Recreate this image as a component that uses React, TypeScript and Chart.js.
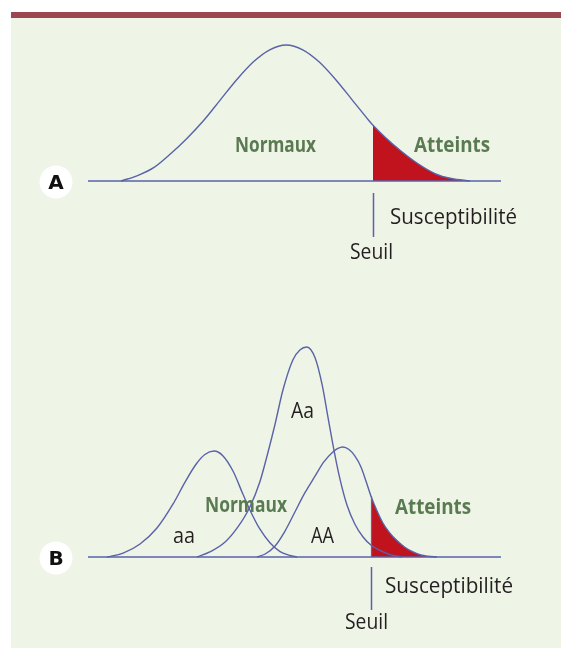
import React, { useEffect, useRef } from "react";
import { Chart, registerables } from "chart.js";

Chart.register(...registerables);

// ---------- DATA ----------
// Susceptibility axis runs 0..100 along the baseline; heights are arbitrary frequency units.
// Panel A: single population
const curveAX = [8, 12, 16, 20, 24, 28, 32, 36, 40, 44, 48, 52, 56, 60, 64, 68, 69, 72, 76, 80, 84, 88, 92.5];
const curveAY = [0, 4, 10, 20, 31.5, 44.5, 59.5, 74.5, 87.5, 96.5, 100, 96.5, 87.5, 74.5, 59.5, 44.5, 41, 32, 21.5, 12.5, 5.5, 1.8, 0];
const thresholdA = 69;

// Panel B: three genotypes
const aaX = [4.6, 8.5, 12.6, 16.7, 20.6, 23.5, 26.2, 28.3, 30.5, 32.7, 35.1, 37.5, 39.2, 41.6, 44.1, 46.5, 48.9, 50.6];
const aaY = [0, 2.9, 9.6, 21.3, 39.0, 55.1, 68.4, 75.4, 77.9, 74.3, 63.2, 46.3, 34.6, 20.6, 10.3, 4.0, 1.1, 0];
const AaX = [26.4, 29.5, 33.2, 36.3, 39.2, 41.6, 43.6, 45.3, 47.2, 49.6, 51.3, 53.0, 55.0, 56.7, 58.1, 59.6, 61.0, 62.7, 64.6, 66.6, 68.5, 70.7, 73.1, 76.0];
const AaY = [0, 3.7, 11.0, 22.1, 36.8, 55.1, 77.2, 97.8, 122.8, 144.9, 152.2, 154.4, 146.3, 126.5, 102.9, 77.9, 57.4, 38.2, 24.3, 14.7, 8.8, 4.8, 1.8, 0];
const AAX = [40.9, 42.9, 45.3, 47.7, 50.1, 52.5, 55.0, 57.1, 59.3, 60.5, 61.7, 63.2, 64.6, 66.1, 67.3, 68.5, 70.0, 71.4, 73.1, 74.8, 76.8, 78.7, 80.6, 82.3, 84.5];
const AAY = [0, 2.2, 8.1, 19.1, 33.1, 47.1, 59.6, 69.9, 77.2, 79.8, 80.9, 79.0, 74.3, 66.2, 55.9, 44.9, 33.8, 25.0, 17.6, 12.1, 7.0, 3.7, 1.5, 0.6, 0];
const thresholdB = 68.5;

const axisRange = [0, 100];

// ---------- STYLE ----------
const BLUE = "#5a62a8";
const RED = "#c1131d";
const GREEN = "#5a7a52";
const INK = "#231f20";
const PANEL = "#eef4e6";
const BAR = "#9b4651";
const REG = "21px 'Open Sans', sans-serif";
const BOLD = "bold 21px 'Open Sans', sans-serif";

type Label = { text: string; x: number; y: number; w: number; font: string; color: string };
type Overlay = {
  threshold: number;
  tickGap: number;
  tickLen: number;
  edge: boolean;
  edgeTop: number;
  badge: { text: string; x: number; y: number };
  labels: Label[];
};

const pts = (xs: number[], ys: number[]) => xs.map((x, i) => ({ x, y: ys[i] }));

function overlayPlugin(o: Overlay) {
  return {
    id: "overlay",
    afterDatasetsDraw(chart: any) {
      const ctx = chart.ctx as CanvasRenderingContext2D;
      const xs = chart.scales.x;
      const ys = chart.scales.y;
      const tx = Math.round(xs.getPixelForValue(o.threshold)) + 0.5;
      const by = ys.getPixelForValue(0);
      ctx.save();
      ctx.strokeStyle = BLUE;
      ctx.lineWidth = 1.5;
      ctx.beginPath();
      ctx.moveTo(tx, by + o.tickGap);
      ctx.lineTo(tx, by + o.tickGap + o.tickLen);
      ctx.stroke();
      if (o.edge) {
        ctx.lineWidth = 1.2;
        ctx.beginPath();
        ctx.moveTo(tx, by);
        ctx.lineTo(tx, ys.getPixelForValue(o.edgeTop));
        ctx.stroke();
      }
      // badge
      ctx.fillStyle = "#ffffff";
      ctx.beginPath();
      ctx.arc(o.badge.x, o.badge.y, 16.5, 0, Math.PI * 2);
      ctx.fill();
      ctx.fillStyle = "#111111";
      ctx.font = "bold 20px 'DejaVu Sans', sans-serif";
      ctx.textAlign = "center";
      ctx.textBaseline = "alphabetic";
      ctx.fillText(o.badge.text, o.badge.x, o.badge.y + 7.3);
      // labels
      ctx.textAlign = "left";
      for (const l of o.labels) {
        ctx.font = l.font;
        ctx.fillStyle = l.color;
        ctx.fillText(l.text, l.x, l.y, l.w);
      }
      ctx.restore();
    },
  };
}

function buildChart(
  canvas: HTMLCanvasElement,
  curves: { x: number[]; y: number[] }[],
  fillCurve: { x: number[]; y: number[] },
  threshold: number,
  yMax: number,
  padding: { left: number; right: number; top: number; bottom: number },
  overlay: Overlay
) {
  const fillPts = pts(fillCurve.x, fillCurve.y).filter((p) => p.x >= threshold);
  const datasets: any[] = [
    {
      data: pts(axisRange, [0, 0]),
      borderColor: BLUE,
      borderWidth: 1.6,
      pointRadius: 0,
      fill: false,
      clip: false,
      order: 1,
    },
    ...curves.map((c) => ({
      data: pts(c.x, c.y),
      borderColor: BLUE,
      borderWidth: 1.4,
      pointRadius: 0,
      cubicInterpolationMode: "monotone",
      fill: false,
      clip: false,
      order: 2,
    })),
    {
      data: fillPts,
      borderWidth: 0,
      borderColor: "rgba(0,0,0,0)",
      backgroundColor: RED,
      pointRadius: 0,
      cubicInterpolationMode: "monotone",
      fill: "origin",
      clip: false,
      order: 3,
    },
  ];
  return new Chart(canvas, {
    type: "line",
    data: { datasets },
    options: {
      animation: false,
      responsive: false,
      maintainAspectRatio: false,
      events: [],
      layout: { padding },
      plugins: { legend: { display: false }, tooltip: { enabled: false }, title: { display: false } },
      scales: {
        x: { type: "linear", min: axisRange[0], max: axisRange[1], display: false },
        y: { type: "linear", min: 0, max: yMax, display: false },
      },
    } as any,
    plugins: [overlayPlugin(overlay)],
  });
}

export default function App() {
  const refA = useRef<HTMLCanvasElement>(null);
  const refB = useRef<HTMLCanvasElement>(null);

  useEffect(() => {
    const a = buildChart(
      refA.current!,
      [{ x: curveAX, y: curveAY }],
      { x: curveAX, y: curveAY },
      thresholdA,
      100,
      { left: 88, right: 60, top: 45, bottom: 119 },
      {
        threshold: thresholdA,
        tickGap: 12,
        tickLen: 44,
        edge: false,
        edgeTop: 0,
        badge: { text: "A", x: 56, y: 182 },
        labels: [
          { text: "Normaux", x: 235, y: 152, w: 81, font: BOLD, color: GREEN },
          { text: "Atteints", x: 414, y: 151.5, w: 76, font: BOLD, color: GREEN },
          { text: "Susceptibilité", x: 390, y: 223.5, w: 127, font: REG, color: INK },
          { text: "Seuil", x: 350, y: 258.5, w: 43, font: REG, color: INK },
        ],
      }
    );
    const b = buildChart(
      refB.current!,
      [
        { x: aaX, y: aaY },
        { x: AaX, y: AaY },
        { x: AAX, y: AAY },
      ],
      { x: AAX, y: AAY },
      thresholdB,
      160,
      { left: 88, right: 60, top: 39.4, bottom: 98 },
      {
        threshold: thresholdB,
        tickGap: 10,
        tickLen: 43,
        edge: true,
        edgeTop: AAY[AAX.indexOf(thresholdB)],
        badge: { text: "B", x: 56, y: 258 },
        labels: [
          { text: "Normaux", x: 205, y: 212, w: 82, font: BOLD, color: GREEN },
          { text: "Atteints", x: 395, y: 214, w: 76, font: BOLD, color: GREEN },
          { text: "aa", x: 173, y: 242.5, w: 22, font: REG, color: INK },
          { text: "Aa", x: 291, y: 118, w: 23, font: REG, color: INK },
          { text: "AA", x: 311, y: 243, w: 23, font: REG, color: INK },
          { text: "Susceptibilité", x: 385, y: 293, w: 128, font: REG, color: INK },
          { text: "Seuil", x: 345, y: 328.5, w: 43, font: REG, color: INK },
        ],
      }
    );
    return () => {
      a.destroy();
      b.destroy();
    };
  }, []);

  return (
    <div style={{ position: "absolute", left: 0, top: 0, width: 561, height: 655, background: "#ffffff", overflow: "hidden" }}>
      <div style={{ position: "absolute", left: 11, top: 12, width: 550, height: 636, background: PANEL }} />
      <div style={{ position: "absolute", left: 11, top: 12, width: 550, height: 6, background: BAR }} />
      <canvas ref={refA} width={561} height={300} style={{ position: "absolute", left: 0, top: 0, width: 561, height: 300 }} />
      <canvas ref={refB} width={561} height={355} style={{ position: "absolute", left: 0, top: 300, width: 561, height: 355 }} />
    </div>
  );
}
